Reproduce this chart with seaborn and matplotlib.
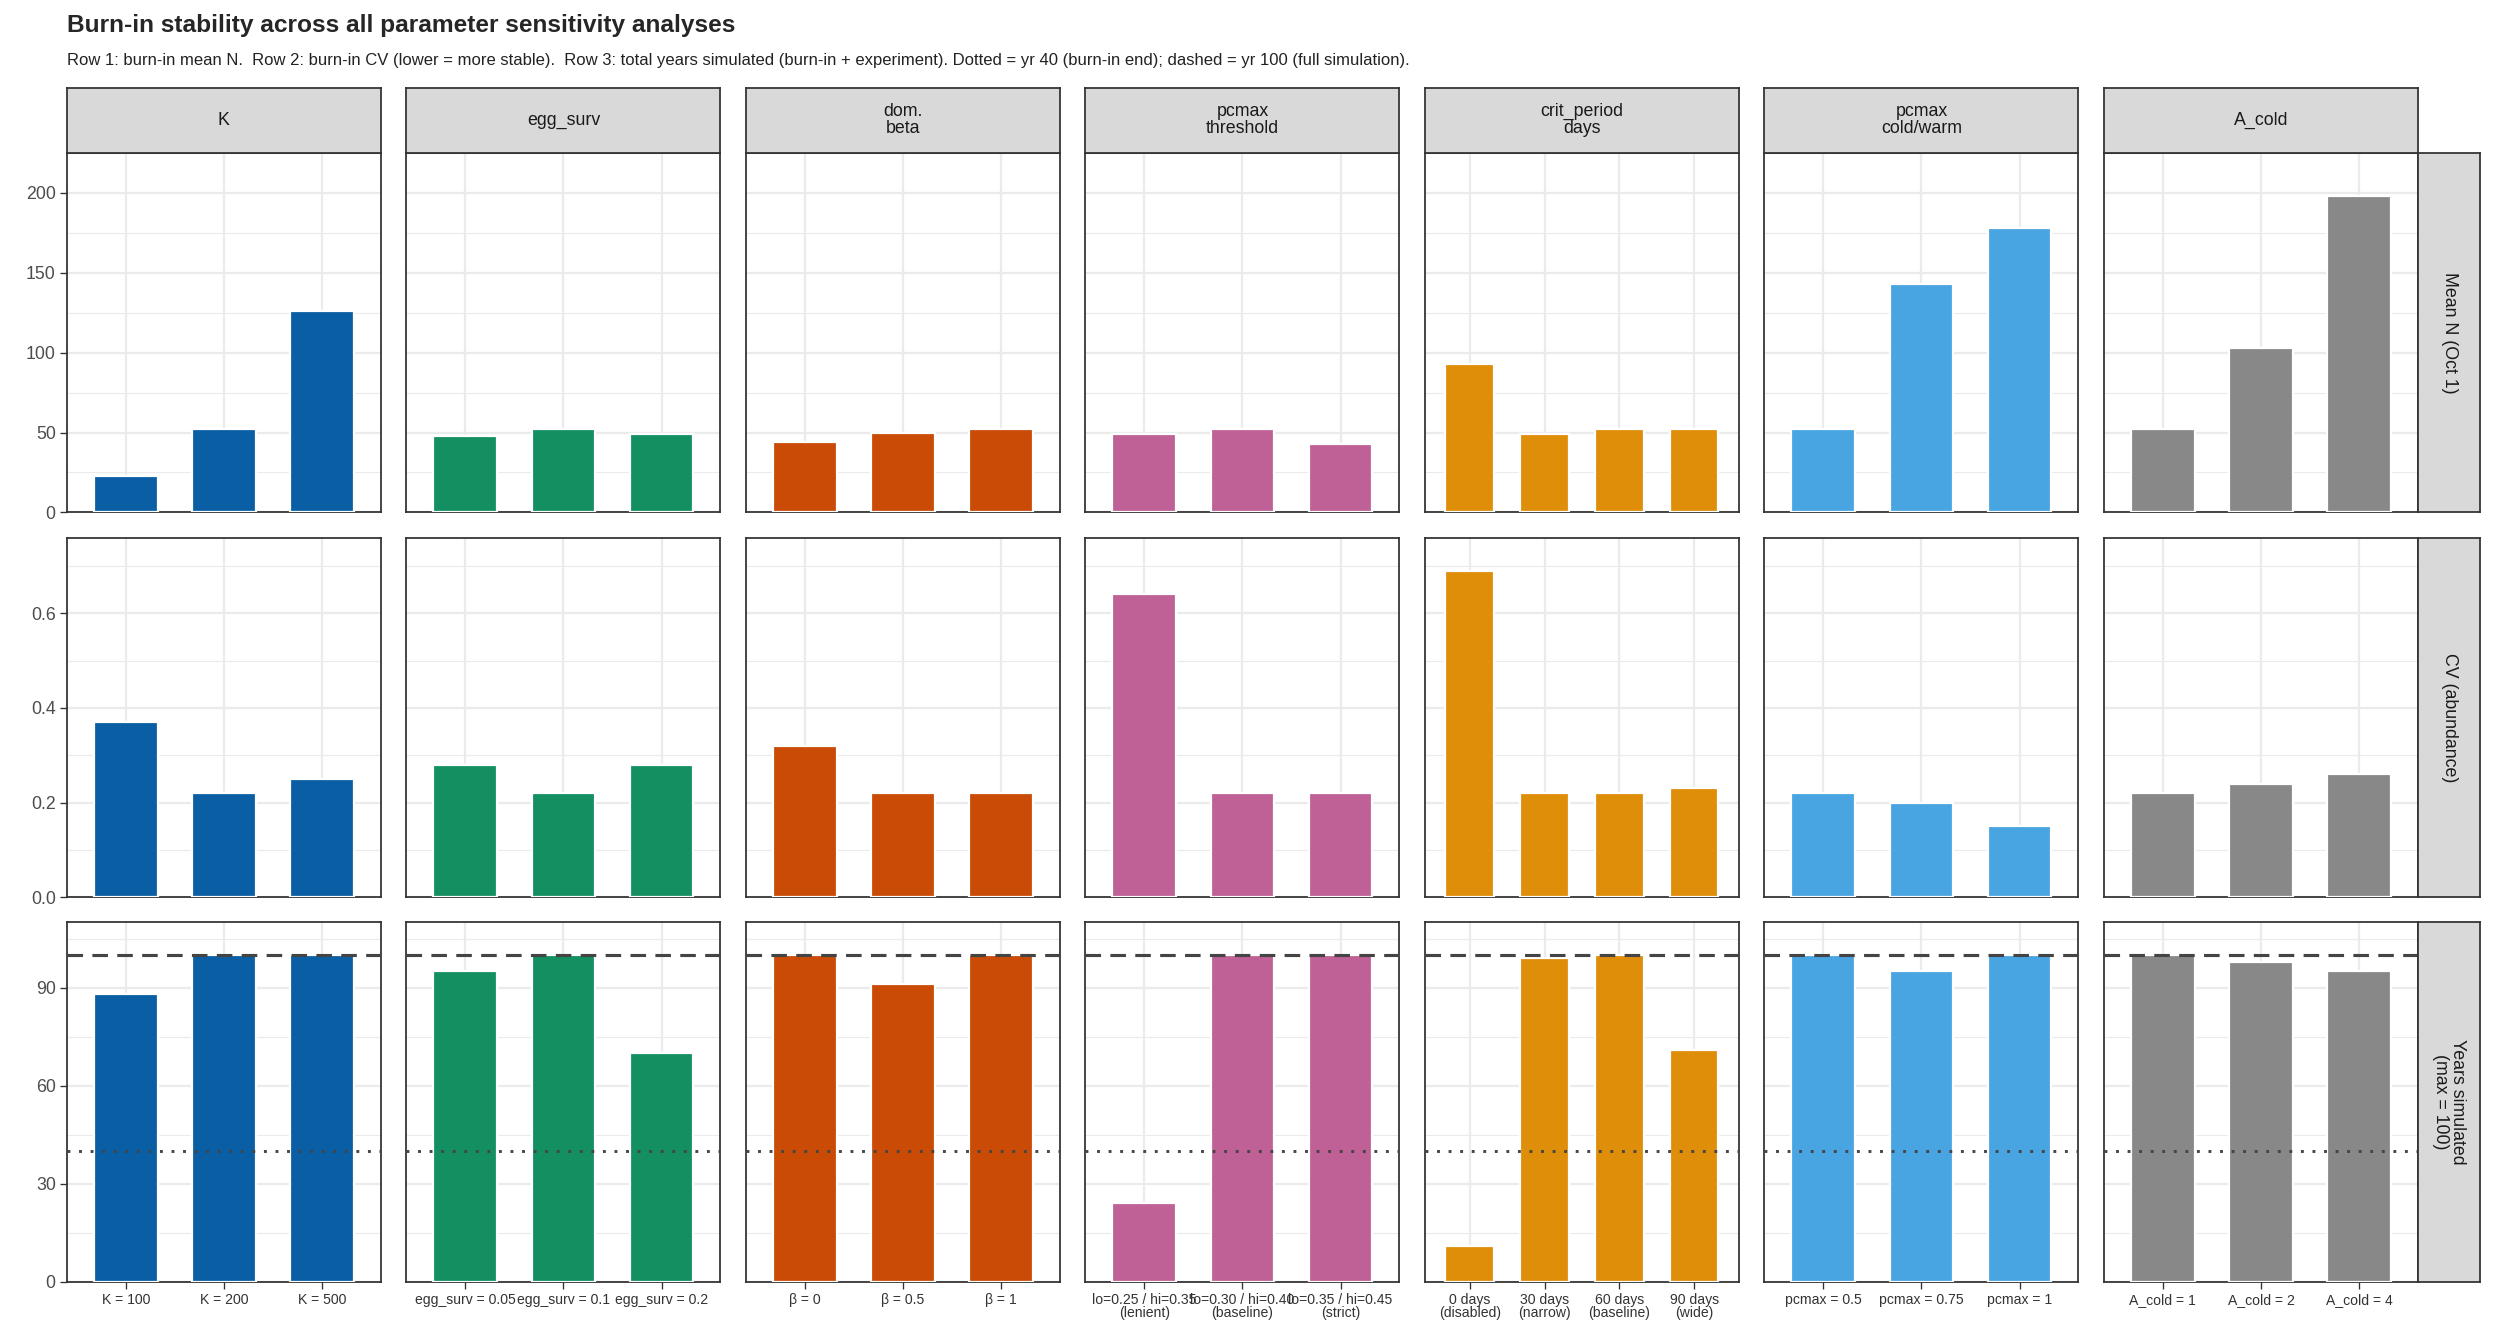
import numpy as np
import pandas as pd
import matplotlib.pyplot as plt
import seaborn as sns
from matplotlib.ticker import MultipleLocator

sns.set_theme(style="white")
plt.rcParams['font.family'] = ['Liberation Sans', 'DejaVu Sans']

# ---- data ----
panels = ['K', 'egg_surv', 'dom.\nbeta', 'pcmax\nthreshold', 'crit_period\ndays', 'pcmax\ncold/warm', 'A_cold']
colors = ['#0A5FA4', '#148F61', '#C94B06', '#BF6196', '#DF8E09', '#49A5E2', '#888888']
labels = [
    ['K = 100', 'K = 200', 'K = 500'],
    ['egg_surv = 0.05', 'egg_surv = 0.1', 'egg_surv = 0.2'],
    ['β = 0', 'β = 0.5', 'β = 1'],
    ['lo=0.25 / hi=0.35\n(lenient)', 'lo=0.30 / hi=0.40\n(baseline)', 'lo=0.35 / hi=0.45\n(strict)'],
    ['0 days\n(disabled)', '30 days\n(narrow)', '60 days\n(baseline)', '90 days\n(wide)'],
    ['pcmax = 0.5', 'pcmax = 0.75', 'pcmax = 1'],
    ['A_cold = 1', 'A_cold = 2', 'A_cold = 4'],
]
mean_n = [[23, 52, 126], [48, 52, 49], [44, 50, 52], [49, 52, 43], [93, 49, 52, 52], [52, 143, 178], [52, 103, 198]]
cv = [[0.37, 0.22, 0.25], [0.28, 0.22, 0.28], [0.32, 0.22, 0.22], [0.64, 0.22, 0.22],
      [0.69, 0.22, 0.22, 0.23], [0.22, 0.20, 0.15], [0.22, 0.24, 0.26]]
years = [[88, 100, 100], [95, 100, 70], [100, 91, 100], [24, 100, 100], [11, 99, 100, 71], [100, 95, 100], [100, 98, 95]]
rows = [mean_n, cv, years]
row_names = ['Mean N (Oct 1)', 'CV (abundance)', 'Years simulated\n(max = 100)']
row_lims = [(0, 225), (0, 0.76), (0, 110)]
row_major = [50, 0.2, 30]

W, H = 1568, 844
fig = plt.figure(figsize=(15.6, 8.4), dpi=160)
gs = fig.add_gridspec(3, 7, left=42 / W, right=1519 / W, top=1 - 96 / H, bottom=1 - 805 / H,
                      wspace=0.081, hspace=0.07)
grid_c = '#EBEBEB'
for r in range(3):
    for c in range(7):
        ax = fig.add_subplot(gs[r, c])
        df = pd.DataFrame({'lab': labels[c], 'val': rows[r][c]})
        sns.barplot(data=df, x='lab', y='val', color=colors[c], width=0.65, saturation=1, ax=ax, zorder=3)
        ax.set_ylim(*row_lims[r])
        ax.set_xlim(-0.6, len(labels[c]) - 0.4)
        ax.yaxis.set_major_locator(MultipleLocator(row_major[r]))
        ax.yaxis.set_minor_locator(MultipleLocator(row_major[r] / 2))
        ax.grid(True, which='major', color=grid_c, lw=1.0, zorder=0)
        ax.grid(True, which='minor', axis='y', color=grid_c, lw=0.5, zorder=0)
        ax.set_axisbelow(True)
        ax.set_xlabel('')
        ax.set_ylabel('')
        for s in ax.spines.values():
            s.set_color('#333333')
            s.set_linewidth(0.8)
        if r == 2:
            ax.axhline(100, color='#444444', ls=(0, (5, 3)), lw=1.4, zorder=4)
            ax.axhline(40, color='#444444', ls=(0, (1, 3)), lw=1.3, zorder=4)
            ax.tick_params(axis='x', labelsize=6.3, colors='#333333', length=3, width=0.6,
                           color='#333333', pad=2, bottom=True)
            for t in ax.get_xticklabels():
                t.set_linespacing(0.95)
        else:
            ax.tick_params(axis='x', labelbottom=False, length=0)
        if c == 0:
            ax.tick_params(axis='y', labelsize=8, colors='#4D4D4D', length=3, width=0.6,
                           color='#333333', pad=2, left=True)
            if r == 1:
                ax.yaxis.set_major_formatter(plt.FuncFormatter(lambda v, _: f'{v:.1f}'))
        else:
            ax.tick_params(axis='y', labelleft=False, length=0)
        pos = ax.get_position()
        if r == 0:
            st = fig.add_axes([pos.x0, pos.y1, pos.width, 41 / H])
            st.set_facecolor('#D9D9D9')
            st.set_xticks([]); st.set_yticks([])
            for s in st.spines.values():
                s.set_color('#333333'); s.set_linewidth(0.8)
            st.text(0.5, 0.5, panels[c], ha='center', va='center', fontsize=8, color='#1A1A1A',
                    linespacing=1.0, transform=st.transAxes)
        if c == 6:
            st = fig.add_axes([pos.x1, pos.y0, 39 / W, pos.height])
            st.set_facecolor('#D9D9D9')
            st.set_xticks([]); st.set_yticks([])
            for s in st.spines.values():
                s.set_color('#333333'); s.set_linewidth(0.8)
            st.text(0.5, 0.5, row_names[r], ha='center', va='center', fontsize=8, color='#1A1A1A',
                    rotation=-90, linespacing=1.0, transform=st.transAxes)

fig.text(42 / W, 1 - 16 / H, 'Burn-in stability across all parameter sensitivity analyses',
         fontsize=11, fontweight='bold', va='center', ha='left')
fig.text(42 / W, 1 - 38 / H,
         'Row 1: burn-in mean N.  Row 2: burn-in CV (lower = more stable).  Row 3: total years simulated '
         '(burn-in + experiment). Dotted = yr 40 (burn-in end); dashed = yr 100 (full simulation).',
         fontsize=7.5, va='center', ha='left', color='#222222')

fig.savefig('out.png', dpi=160)
